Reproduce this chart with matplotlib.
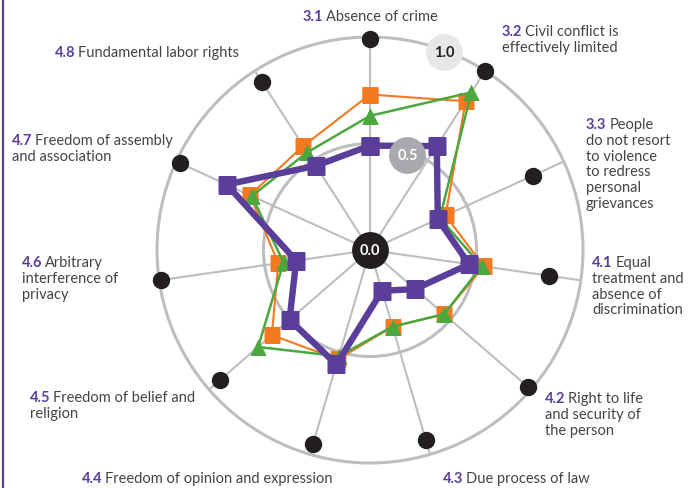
import numpy as np
import matplotlib.pyplot as plt

# radar values (0 = centre, 1 = outer ring)
codes = ['3.1', '3.2', '3.3', '4.1', '4.2', '4.3', '4.4', '4.5', '4.6', '4.7', '4.8']
names = [['Absence of crime'],
         ['Civil conflict is', 'effectively limited'],
         ['People', 'do not resort', 'to violence', 'to redress', 'personal', 'grievances'],
         ['Equal', 'treatment and', 'absence of', 'discrimination'],
         ['Right to life', 'and security of', 'the person'],
         ['Due process of law'],
         ['Freedom of opinion and expression'],
         ['Freedom of belief and', 'religion'],
         ['Arbitrary', 'interference of', 'privacy'],
         ['Freedom of assembly', 'and association'],
         ['Fundamental labor rights']]
purple_vals = [0.49, 0.58, 0.35, 0.47, 0.28, 0.20, 0.56, 0.50, 0.35, 0.74, 0.47]
orange_vals = [0.73, 0.83, 0.39, 0.54, 0.46, 0.375, 0.535, 0.61, 0.435, 0.62, 0.58]
green_vals = [0.63, 0.88, 0.36, 0.53, 0.46, 0.375, 0.52, 0.695, 0.41, 0.61, 0.545]
dot_vals = [0.99, 1.0, 0.84, 0.85, 0.98, 0.93, 0.95, 0.93, 0.99, 0.98, 0.94]
ring_labels = ['0.0', '0.5', '1.0']

PURPLE = '#5a3e9a'
ORANGE = '#f47920'
GREEN = '#4aa83f'
BLACK = '#231f20'
GRID = '#bcbec0'
TEXT = '#444446'

plt.rcParams['font.family'] = ['Lato', 'DejaVu Sans']

W, H = 698, 489
fig = plt.figure(figsize=(W / 100, H / 100), dpi=100)

# polar axes: centre at (370, 251) px, radius 213 px
cx, cy, R = 370, 251, 213
ax = fig.add_axes([(cx - R) / W, (H - cy - R) / H, 2 * R / W, 2 * R / H], projection='polar')
ax.set_theta_zero_location('N')
ax.set_theta_direction(-1)
ax.set_ylim(0, 1)

n = len(codes)
angles = np.arange(n) * 2 * np.pi / n
ax.set_xticks(angles)
ax.set_xticklabels([])
ax.set_yticks([0.5])
ax.set_yticklabels([])
ax.tick_params(length=0)
ax.xaxis.grid(True, color=GRID, lw=1.5)
ax.yaxis.grid(True, color=GRID, lw=2.2)
ax.spines['polar'].set_color(GRID)
ax.spines['polar'].set_linewidth(2.2)


def closed(v):
    return np.append(v, v[0])


a = closed(angles)
ax.plot(a, closed(orange_vals), color=ORANGE, lw=1.5, marker='s', ms=11,
        mec='none', zorder=3)
ax.plot(a, closed(green_vals), color=GREEN, lw=1.8, marker='^', ms=12,
        mec='none', zorder=4)
ax.plot(a, closed(purple_vals), color=PURPLE, lw=4.6, marker='s', ms=12.5,
        mec='none', zorder=5)
ax.plot(angles, dot_vals, 'o', color=BLACK, ms=11.5, zorder=6, clip_on=False)

# scale badges
badge_pos = [(0, 0), (np.radians(21.5), 0.48), (np.radians(20.5), 0.99)]
badge_face = [BLACK, '#a7a9ac', '#e6e7e8']
badge_text = ['white', 'white', BLACK]
for (t, r), lab, fc, tc in zip(badge_pos, ring_labels, badge_face, badge_text):
    ax.plot(t, r, 'o', ms=25.5, color=fc, zorder=8, clip_on=False)
    ax.text(t, r, lab, color=tc, fontsize=10.5, weight='bold', ha='center',
            va='center', zorder=9)

# category labels: (x, baseline y) in pixels
label_x = [303, 502, 586, 592, 545, 443, 82, 30, 22, 12, 55]
label_y = [21, 36, 129, 267, 403, 483, 483, 402, 267, 145, 57]
line_gap = 15.8
fs = 10.5

for code, lines, x, y in zip(codes, names, label_x, label_y):
    num = fig.text(x / W, 1 - y / H, code, color=PURPLE, weight='bold',
                   fontsize=fs, ha='left', va='baseline')
    ax.annotate(lines[0], xy=(1, 0), xycoords=num, xytext=(2, 0),
                textcoords='offset points', color=TEXT, fontsize=fs,
                ha='left', va='bottom', annotation_clip=False)
    for i, line in enumerate(lines[1:]):
        fig.text(x / W, 1 - (y + line_gap * (i + 1)) / H, line, color=TEXT,
                 fontsize=fs, ha='left', va='baseline')

# purple rule at left edge
fig.add_artist(plt.Line2D([3 / W, 3 / W], [0, 1], color=PURPLE, lw=1.6))

fig.savefig('out.png', dpi=100)
